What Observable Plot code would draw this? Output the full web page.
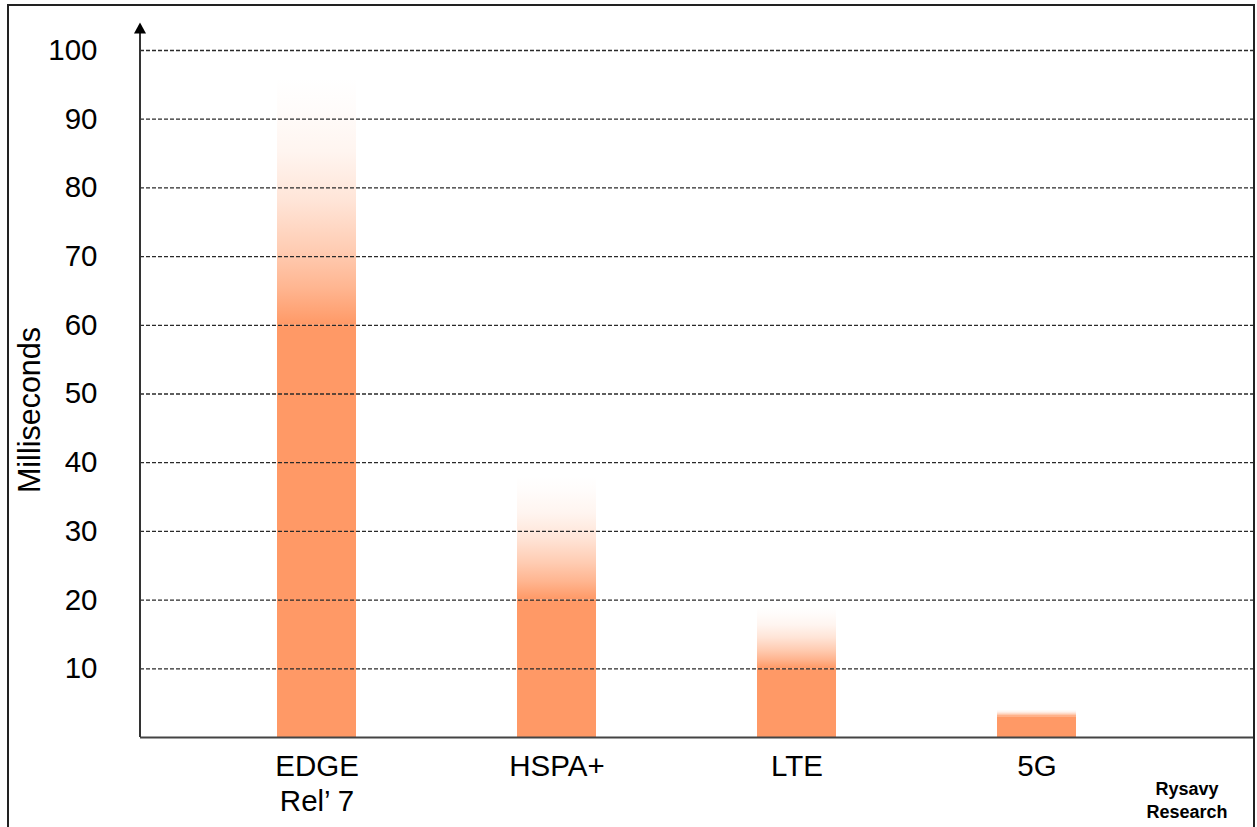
<!DOCTYPE html>
<html><head><meta charset="utf-8">
<script src="https://cdn.jsdelivr.net/npm/d3@7"></script>
<script src="https://cdn.jsdelivr.net/npm/@observablehq/plot@0.6"></script>
<style>
body{margin:0;background:#fff;font-family:"Liberation Sans",Arial,sans-serif;}
#wrap{position:relative;width:1257px;height:827px;overflow:hidden;}
#chart{position:absolute;left:0;top:0;}
#border{position:absolute;left:7px;top:4px;width:1244px;height:900px;border:2px solid #222;pointer-events:none;}
#credit{position:absolute;left:1127px;width:120px;top:778px;text-align:center;font-weight:bold;font-size:18px;line-height:23px;color:#000;}
</style></head><body>
<div id="wrap"><div id="chart"></div><div id="border"></div><div id="credit">Rysavy<br>Research</div></div>
<script>
// Data
const categories = ["EDGE\nRel’ 7", "HSPA+", "LTE", "5G"];
const solidTop = [60, 20, 10, 3];   // fully coloured part (ms)
const fadeTop = [96, 38, 19, 4];    // top of the faded part (ms)
const yTicks = [10, 20, 30, 40, 50, 60, 70, 80, 90, 100];
const axisTop = 104;                // arrow tip of the y axis (ms)
const yLabel = "Milliseconds";

const data = categories.map((c, i) => ({cat: c, lo: solidTop[i], hi: fadeTop[i]}));
const orange = "#ff9966";

const defs = () => {
  const d = d3.create("svg:defs");
  const lg = d.append("linearGradient").attr("id", "fade")
    .attr("x1", 0).attr("y1", 1).attr("x2", 0).attr("y2", 0);
  [[0, 1], [0.15, 0.72], [0.3, 0.5], [0.5, 0.26], [0.7, 0.1], [0.88, 0.03], [1, 0]].forEach(([o, a]) =>
    lg.append("stop").attr("offset", o).attr("stop-color", orange).attr("stop-opacity", a));
  return d.node();
};

const yAxisArrow = (index, scales, values, dims) => {
  const g = d3.create("svg:g");
  const x = dims.marginLeft;
  const y0 = scales.y(0), y1 = scales.y(axisTop);
  g.append("line").attr("x1", x).attr("x2", x).attr("y1", y0).attr("y2", y1 + 9)
    .attr("stroke", "#333").attr("stroke-width", 2);
  g.append("path").attr("d", `M${x},${y1}L${x - 6},${y1 + 11}L${x + 6},${y1 + 11}Z`).attr("fill", "#000");
  return g.node();
};

const chart = Plot.plot({
  width: 1257, height: 827,
  marginLeft: 140, marginRight: 2, marginTop: 50, marginBottom: 90,
  style: {fontFamily: "'Liberation Sans', Arial, sans-serif", color: "#000", background: "transparent"},
  x: {domain: categories, range: [195.6, 1156.8], paddingInner: 0.67, paddingOuter: 0.335, label: null},
  y: {domain: [0, 100], label: null},
  marks: [
    defs,
    Plot.barY(data, {x: "cat", y1: 0, y2: "lo", fill: orange}),
    Plot.barY(data, {x: "cat", y1: "lo", y2: "hi", fill: "url(#fade)"}),
    Plot.ruleY(yTicks, {stroke: "#2a2a2a", strokeWidth: 1.3, strokeDasharray: "4,2"}),
    Plot.ruleY([0], {stroke: "#444", strokeWidth: 2}),
    yAxisArrow,
    Plot.axisY(yTicks, {tickSize: 0, tickPadding: 43, fontSize: 29.5, label: null}),
    Plot.axisX({tickSize: 0, tickPadding: 14, fontSize: 29.5, lineHeight: 1.17, label: null}),
    Plot.text([yLabel], {frameAnchor: "left", textAnchor: "middle", rotate: -90, dx: -110, dy: 16, fontSize: 30.5, text: d => d})
  ]
});
document.getElementById("chart").append(chart);
</script>
</body></html>
